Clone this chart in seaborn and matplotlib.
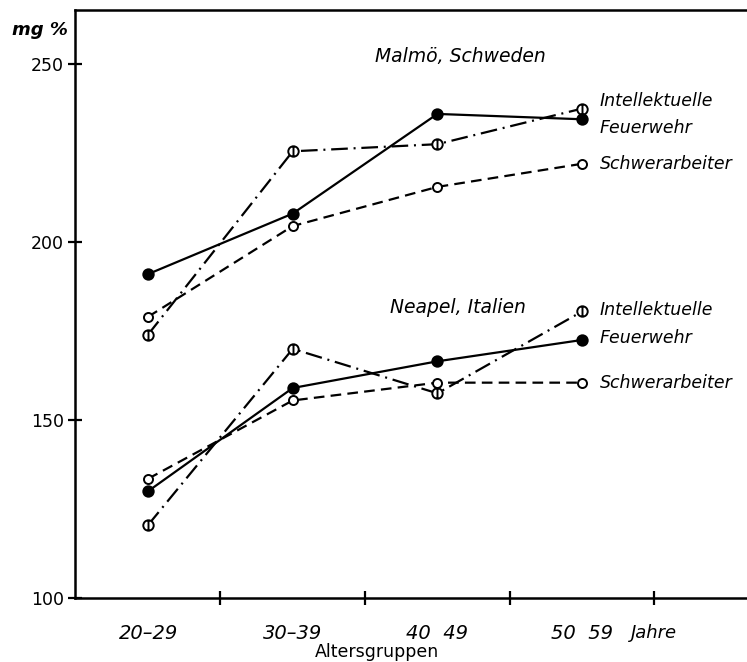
import numpy as np
import pandas as pd
import seaborn as sns
import matplotlib
matplotlib.use("Agg")
import matplotlib.pyplot as plt
from matplotlib.path import Path

# Altersgruppen (category positions 0..3)
altersgruppen = ["20–29", "30–39", "40  49", "50  59"]
gruppen = ["Intellektuelle", "Feuerwehr", "Schwerarbeiter"]

# Cholesterin (mg %) nach Altersgruppe
malmoe_intellektuelle = [174, 225.5, 227.5, 237.5]
malmoe_feuerwehr = [191, 208, 236, 234.5]
malmoe_schwerarbeiter = [179, 204.5, 215.5, 222]

neapel_intellektuelle = [120.5, 170, 157.5, 180.5]
neapel_feuerwehr = [130, 159, 166.5, 172.5]
neapel_schwerarbeiter = [133.5, 155.5, 160.5, 160.5]

# label heights for the series names on the right
malmoe_label_y = [239.5, 232, 222]
neapel_label_y = [181, 173, 160.5]

y_ticks = [100, 150, 200, 250]

sns.set_theme(style="white")
plt.rcParams["font.family"] = ["DejaVu Sans"]
plt.rcParams.update({
    "text.color": "black",
    "axes.labelcolor": "black",
    "xtick.color": "black",
    "ytick.color": "black",
})

records = []
for stadt, series in [("Malmö", [malmoe_intellektuelle, malmoe_feuerwehr, malmoe_schwerarbeiter]),
                      ("Neapel", [neapel_intellektuelle, neapel_feuerwehr, neapel_schwerarbeiter])]:
    for gruppe, werte in zip(gruppen, series):
        for i, w in enumerate(werte):
            records.append({"Stadt": stadt, "Gruppe": gruppe, "pos": i, "mg": w})
df = pd.DataFrame(records)

# circle with a vertical bar through it
bar_circle = Path.make_compound_path(
    Path.unit_circle(),
    Path([(0, -1), (0, 1)], [Path.MOVETO, Path.LINETO]),
)

lw = 1.6
styles = {
    "Intellektuelle": dict(linestyle=(0, (7.5, 2.6, 0.9, 2.6)), marker=bar_circle,
                           markerfacecolor="white", markersize=7.5),
    "Feuerwehr": dict(linestyle="-", marker="o", markerfacecolor="black", markersize=7.5),
    "Schwerarbeiter": dict(linestyle=(0, (4.8, 2.8)), marker="o",
                           markerfacecolor="white", markersize=6.5),
}

fig = plt.figure(figsize=(7.47, 6.62), dpi=100)
ax = fig.add_axes([75 / 747, 64 / 662, 672 / 747, 588 / 662])

for (stadt, gruppe), sub in df.groupby(["Stadt", "Gruppe"], sort=False):
    st = styles[gruppe]
    sns.lineplot(data=sub, x="pos", y="mg", ax=ax, color="black", linewidth=lw,
                 markeredgecolor="black", markeredgewidth=1.4, legend=False,
                 estimator=None, **st)

ax.set_xlim(-0.505, 4.14)
ax.set_ylim(100, 265.2)

ax.set_yticks(y_ticks)
ax.set_yticklabels([str(t) for t in y_ticks], fontsize=12.5)
ax.set_xticks([0.5, 1.5, 2.5, 3.5])
ax.set_xticklabels(["", "", "", "Jahre"], fontsize=13, style="italic")
ax.set_xticks(range(len(altersgruppen)), minor=True)
ax.set_xticklabels(altersgruppen, minor=True, fontsize=14, style="italic")

ax.tick_params(axis="both", which="major", direction="inout", length=10, width=1.6,
               colors="black", bottom=True, left=True)
ax.tick_params(axis="y", which="major", pad=3)
ax.tick_params(axis="x", which="major", pad=14)
ax.tick_params(axis="x", which="minor", length=0, pad=19, bottom=True)

for side in ["left", "bottom", "top"]:
    ax.spines[side].set_color("black")
    ax.spines[side].set_linewidth(1.8)
ax.spines["right"].set_visible(False)

ax.set_xlabel("Altersgruppen", fontsize=12.5)
ax.set_ylabel("")
ax.xaxis.set_label_coords(0.449, -0.091)
ax.xaxis.label.set_va("center")

fig.text(40 / 747, 1 - 30 / 662, "mg %", fontsize=13, fontweight="bold",
         style="italic", ha="center", va="center")

ax.text(2.16, 252, "Malmö, Schweden", fontsize=13.5, style="italic", ha="center", va="center")
ax.text(2.14, 181.5, "Neapel, Italien", fontsize=13.5, style="italic", ha="center", va="center")

for gruppe, yl in zip(gruppen, malmoe_label_y):
    ax.text(3.12, yl, gruppe, fontsize=12.5, style="italic", ha="left", va="center")
for gruppe, yl in zip(gruppen, neapel_label_y):
    ax.text(3.12, yl, gruppe, fontsize=12.5, style="italic", ha="left", va="center")

fig.savefig("out.png", dpi=100, facecolor="white")
